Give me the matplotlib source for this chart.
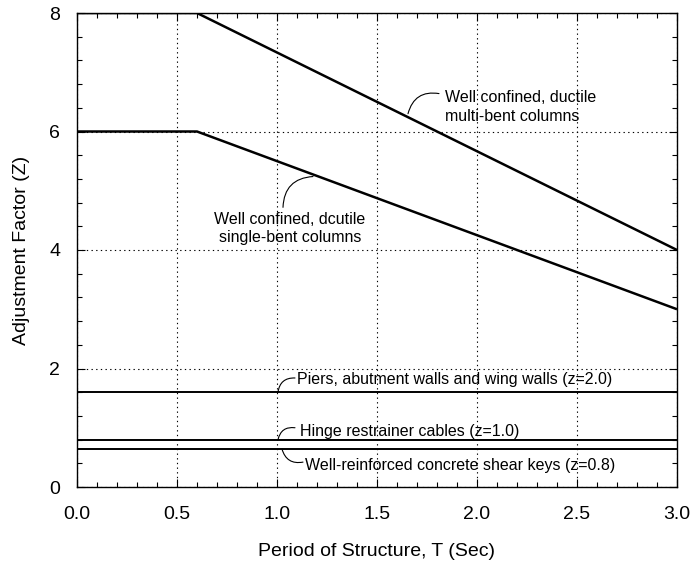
import matplotlib
matplotlib.use("Agg")
import matplotlib.pyplot as plt
from matplotlib.ticker import MultipleLocator

plt.rcParams['font.family'] = ['Liberation Sans', 'DejaVu Sans']

# Ductile column curves: (period, Z) break points
period_knee = [0.0, 0.6, 3.0]
z_multi_bent = [8.0, 8.0, 4.0]
z_single_bent = [6.0, 6.0, 3.0]

# Constant-level elements: nominal z values and the scale used for the drawn level
element_names = ["Piers, abutment walls and wing walls",
                 "Hinge restrainer cables",
                 "Well-reinforced concrete shear keys"]
z_nominal = [2.0, 1.0, 0.8]
level_scale = 0.8

x_ticks = [0.0, 0.5, 1.0, 1.5, 2.0, 2.5, 3.0]
y_ticks = [0, 2, 4, 6, 8]

fig = plt.figure(figsize=(6.92, 5.68), dpi=100)
ax = fig.add_axes([77 / 692, 1 - 487 / 568, 600 / 692, 474 / 568])

ax.set_xlim(0, 3.0)
ax.set_ylim(0, 8)
ax.set_xticks(x_ticks)
ax.set_xticklabels([f"{v:.1f}" for v in x_ticks])
ax.set_yticks(y_ticks)
ax.xaxis.set_minor_locator(MultipleLocator(0.1))
ax.yaxis.set_minor_locator(MultipleLocator(0.4))
ax.tick_params(which='both', direction='in', top=True, right=True, width=0.8)
ax.tick_params(which='major', length=6, labelsize=14)
ax.tick_params(axis='x', which='major', pad=14)
ax.tick_params(axis='y', which='major', pad=12)
ax.tick_params(which='minor', length=3.5)
for s in ax.spines.values():
    s.set_linewidth(1.0)

ax.grid(True, which='major', color='black', linestyle=(0, (1.2, 3.0)), linewidth=0.8)

ax.plot(period_knee, z_multi_bent, color='black', lw=1.8, solid_capstyle='butt', zorder=3)
ax.plot(period_knee, z_single_bent, color='black', lw=1.8, solid_capstyle='butt', zorder=3)

for z in z_nominal:
    ax.axhline(z * level_scale, color='black', lw=1.4, zorder=3)

ax.set_xlabel("Period of Structure, T (Sec)", fontsize=14, labelpad=14)
ax.set_ylabel("Adjustment Factor (Z)", fontsize=14, labelpad=14)

ann_fs = 11.5
lead = dict(arrowstyle='-', color='black', lw=0.8, shrinkA=0, shrinkB=0)

ax.text(1.84, 6.42, "Well confined, ductile\nmulti-bent columns",
        ha='left', va='center', fontsize=ann_fs, linespacing=1.35)
ax.annotate("", xy=(1.655, 6.30), xytext=(1.81, 6.64),
            arrowprops=dict(lead, connectionstyle='arc3,rad=0.45'))

ax.text(1.065, 4.36, "Well confined, dcutile\nsingle-bent columns",
        ha='center', va='center', fontsize=ann_fs, linespacing=1.2)
ax.annotate("", xy=(1.18, 5.24), xytext=(1.03, 4.72),
            arrowprops=dict(lead, connectionstyle='arc3,rad=-0.45'))

text_pos = [(1.10, 1.82), (1.115, 0.93), (1.14, 0.36)]
leader_start = [(1.09, 1.84), (1.09, 1.00), (1.13, 0.42)]
leader_end = [(1.005, 1.6), (1.005, 0.8), (1.025, 0.64)]
leader_rad = [0.45, 0.45, -0.45]
for name, z, tp, st, en, rad in zip(element_names, z_nominal, text_pos,
                                    leader_start, leader_end, leader_rad):
    ax.text(tp[0], tp[1], f"{name} (z={z:.1f})", ha='left', va='center',
            fontsize=ann_fs)
    ax.annotate("", xy=en, xytext=st,
                arrowprops=dict(lead, connectionstyle=f'arc3,rad={rad}'))

fig.savefig("out.png", dpi=100)
